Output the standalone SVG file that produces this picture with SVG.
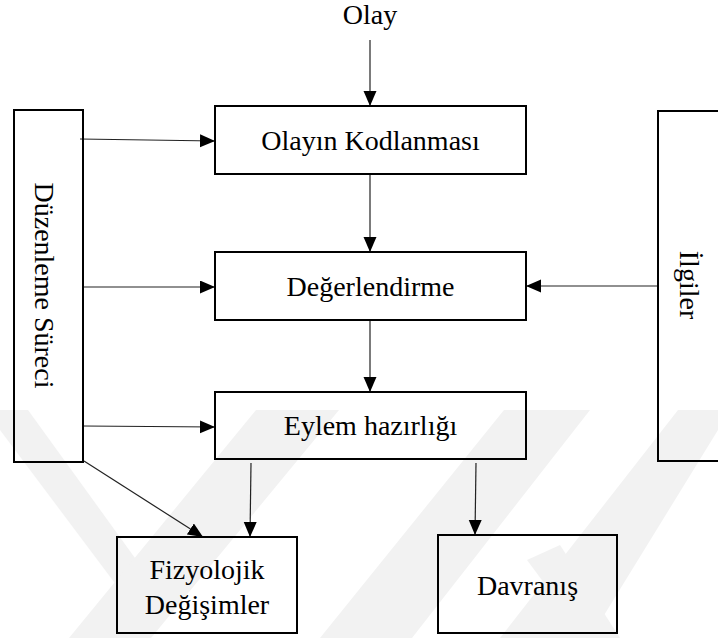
<svg xmlns="http://www.w3.org/2000/svg" width="718" height="638" viewBox="0 0 718 638">
  <style>
    .box { fill: none; stroke: #000; stroke-width: 2; }
    .lbl { font-family: "Liberation Serif", "Times New Roman", serif; font-size: 28px; fill: #000; text-anchor: middle; }
    .conn { fill: none; stroke: #222; stroke-width: 1.2; marker-end: url(#ah); }
    .wm { fill: #f2f2f2; stroke: none; }
  </style>
  <defs>
    <marker id="ah" markerUnits="userSpaceOnUse" markerWidth="16" markerHeight="14" refX="15" refY="6.5" orient="auto">
      <path d="M0,0 L15,6.5 L0,13 Z" fill="#000"/>
    </marker>
  </defs>
  <rect x="0" y="0" width="718" height="638" fill="#fff"/>

  <g id="watermark">
    <polygon class="wm" points="0,410 28,410 140,565 120,590 0,430"/>
    <polygon class="wm" points="256,410 339,410 151,638 69,638"/>
    <polygon class="wm" points="504,410 590,410 412,638 320,638"/>
    <polygon class="wm" points="678,410 718,410 718,430 590,638 500,638"/>
    <polygon class="wm" points="527,560 560,545 620,638 585,638"/>
  </g>

  <g id="connectors">
    <path class="conn" d="M370,40 V106"/>
    <path class="conn" d="M370,174 V252"/>
    <path class="conn" d="M370,320 V392"/>
    <path class="conn" d="M80,139 L215,141"/>
    <path class="conn" d="M83,287 H215"/>
    <path class="conn" d="M83,426 L215,427"/>
    <path class="conn" d="M658,286 H526"/>
    <path class="conn" d="M84,461 L203,537"/>
    <path class="conn" d="M251,463 L250,537"/>
    <path class="conn" d="M476,463 L475,535"/>
  </g>

  <g id="olay">
    <text class="lbl" x="370" y="24">Olay</text>
  </g>
  <g id="duzenleme">
    <rect class="box" x="14" y="110" width="69" height="352"/>
    <text class="lbl" transform="translate(35,285.5) rotate(90)">Düzenleme Süreci</text>
  </g>
  <g id="ilgiler">
    <rect class="box" x="658" y="111" width="80" height="350"/>
    <text class="lbl" transform="translate(680,285) rotate(90)">İlgiler</text>
  </g>
  <g id="kodlama">
    <rect class="box" x="215" y="106" width="311" height="68"/>
    <text class="lbl" x="370.5" y="150">Olayın Kodlanması</text>
  </g>
  <g id="degerlendirme">
    <rect class="box" x="215" y="252" width="311" height="68"/>
    <text class="lbl" x="370.5" y="296">Değerlendirme</text>
  </g>
  <g id="eylem">
    <rect class="box" x="215" y="392" width="311" height="67"/>
    <text class="lbl" x="370.5" y="435">Eylem hazırlığı</text>
  </g>
  <g id="fizyolojik">
    <rect class="box" x="117" y="537" width="180" height="96"/>
    <text class="lbl" x="207" y="579">Fizyolojik</text>
    <text class="lbl" x="207" y="614">Değişimler</text>
  </g>
  <g id="davranis">
    <rect class="box" x="438" y="535" width="179" height="98"/>
    <text class="lbl" x="527.5" y="595">Davranış</text>
  </g>
</svg>
